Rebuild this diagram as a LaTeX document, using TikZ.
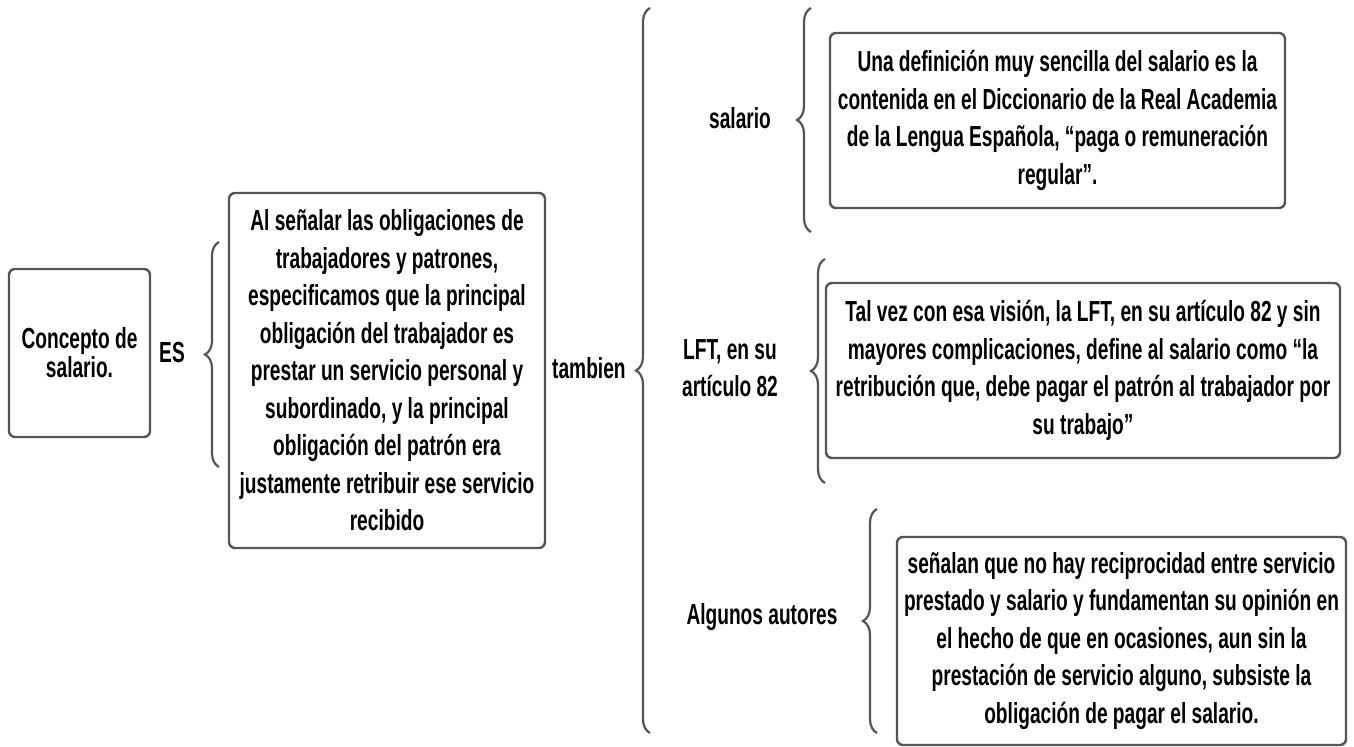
\documentclass[tikz,border=0pt]{standalone}
\usepackage{fontspec}
\setmainfont{Liberation Sans}[FakeStretch=0.66]
\usepackage{xcolor}
\usetikzlibrary{positioning, decorations.pathreplacing}

\definecolor{linegray}{RGB}{85,85,85}
\newcommand\txt{\fontsize{14.5}{18.75}\selectfont\bfseries}
\newcommand\txttight{\fontsize{14.5}{14.5}\selectfont\bfseries}

\begin{document}
\begin{tikzpicture}[x=0.5pt, y=-0.5pt,
    box/.style={draw=linegray, line width=1.2pt, rounded corners=3pt,
        align=center, inner sep=0pt, font=\txt},
    lbl/.style={align=center, inner sep=0pt, font=\txt},
    brc/.style={draw=linegray, line width=1.1pt, decorate,
        decoration={brace, amplitude=7pt}}]
    \useasboundingbox (0,0) rectangle (1354,747);

    % Root
    \node[box, font=\txttight, minimum width=70.5pt, minimum height=84pt] (concepto) at (79.5,353)
        {Concepto de\\salario.};
    \node[lbl] (es) at (172,353) {ES};

    % Definition
    \node[box, minimum width=158pt, minimum height=177.5pt] (oblig) at (387,370.5)
        {Al señalar las obligaciones de\\trabajadores y patrones,\\especificamos que la principal\\obligación del trabajador es\\prestar un servicio personal y\\subordinado, y la principal\\obligación del patrón era\\justamente retribuir ese servicio\\recibido};
    \node[lbl, anchor=east] (tambien) at (626,368) {tambien};

    % Branches
    \node[lbl] (salario) at (740,118) {salario};
    \node[lbl] (lft) at (730,368) {LFT, en su\\artículo 82};
    \node[lbl] (autores) at (762,617) {Algunos autores};

    \node[box, minimum width=227.5pt, minimum height=87.5pt] (rae) at (1057.5,120.5)
        {Una definición muy sencilla del salario es la\\contenida en el Diccionario de la Real Academia\\de la Lengua Española, “paga o remuneración\\regular”.};
    \node[box, minimum width=257pt, minimum height=87.5pt] (art82) at (1083,370.5)
        {Tal vez con esa visión, la LFT, en su artículo 82 y sin\\mayores complicaciones, define al salario como “la\\retribución que, debe pagar el patrón al trabajador por\\su trabajo”};
    \node[box, minimum width=224.5pt, minimum height=104pt] (recip) at (1121.5,641)
        {señalan que no hay reciprocidad entre servicio\\prestado y salario y fundamentan su opinión en\\el hecho de que en ocasiones, aun sin la\\prestación de servicio alguno, subsiste la\\obligación de pagar el salario.};

    % Braces
    \coordinate (b1s) at (219,467); \coordinate (b1e) at (219,242);
    \coordinate (b2s) at (650,733); \coordinate (b2e) at (650,8);
    \coordinate (b3s) at (811,232); \coordinate (b3e) at (811,8);
    \coordinate (b4s) at (825,483); \coordinate (b4e) at (825,259);
    \coordinate (b5s) at (877,733); \coordinate (b5e) at (877,509);
    \draw[brc] (b1s) -- (b1e);
    \draw[brc] (b2s) -- (b2e);
    \draw[brc] (b3s) -- (b3e);
    \draw[brc] (b4s) -- (b4e);
    \draw[brc] (b5s) -- (b5e);

\end{tikzpicture}
\end{document}
